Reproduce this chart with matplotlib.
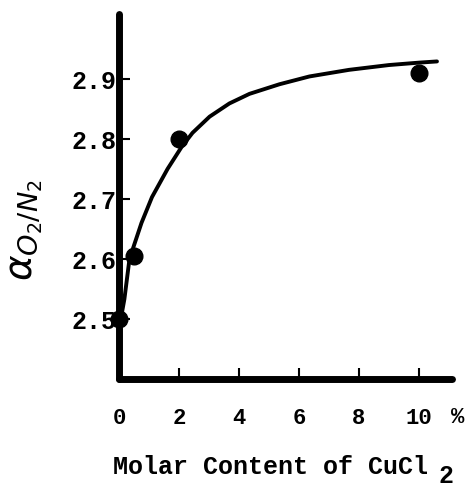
import numpy as np
import matplotlib.pyplot as plt

# measured points (molar content of CuCl2, %) and separation factor
cucl2 = [0.0, 0.5, 2.0, 10.0]
alpha = [2.50, 2.605, 2.80, 2.91]

# hand-drawn trend line
curve_x = [0.05, 0.18, 0.35, 0.75, 1.1, 1.62, 2.08, 2.45, 3.02, 3.68, 4.35,
           5.35, 6.35, 7.67, 9.0, 10.0, 10.6]
curve_y = [2.497, 2.533, 2.600, 2.66, 2.703, 2.75, 2.786, 2.810, 2.837, 2.859, 2.875,
           2.891, 2.904, 2.915, 2.923, 2.927, 2.929]

xticks = [0, 2, 4, 6, 8, 10]
yticks = [2.5, 2.6, 2.7, 2.8, 2.9]

mono = 'Liberation Mono'

fig = plt.figure(figsize=(4.69, 4.89), dpi=100)
ax = fig.add_axes([0.2537, 0.2229, 0.71, 0.7464])

ax.plot(curve_x, curve_y, color='black', lw=2.8, solid_capstyle='round',
        solid_joinstyle='round')
ax.plot(cucl2, alpha, 'o', color='black', ms=12, clip_on=False)

ax.set_xlim(0, 11.1)
ax.set_ylim(2.4, 3.008)

for s in ['top', 'right']:
    ax.spines[s].set_visible(False)
for s in ['left', 'bottom']:
    ax.spines[s].set_linewidth(5)
    ax.spines[s].set_capstyle('round')

ax.set_xticks(xticks)
ax.set_xticklabels([str(t) for t in xticks])
ax.set_yticks(yticks)
ax.set_yticklabels(['%.1f' % t for t in yticks])
ax.tick_params(axis='x', direction='in', length=8, width=1.5, pad=20, labelsize=16)
ax.tick_params(axis='y', direction='in', length=8, width=1.5, pad=2, labelsize=18)
for lab in ax.get_xticklabels() + ax.get_yticklabels():
    lab.set_fontfamily(mono)
    lab.set_fontweight('bold')

fig.text(0.975, 0.147, '%', fontsize=16, family=mono, weight='bold', ha='center', va='center')

fig.text(0.241, 0.031, 'Molar Content of CuCl', fontsize=18, family=mono, weight='bold', ha='left', va='baseline')
fig.text(0.936, 0.013, '2', fontsize=18, family=mono, weight='bold', ha='left', va='baseline')

fig.text(0.055, 0.53, r'$\alpha_{O_2/N_2}$', fontsize=28, rotation=90, ha='center', va='center')

plt.savefig('out.png', dpi=100)
